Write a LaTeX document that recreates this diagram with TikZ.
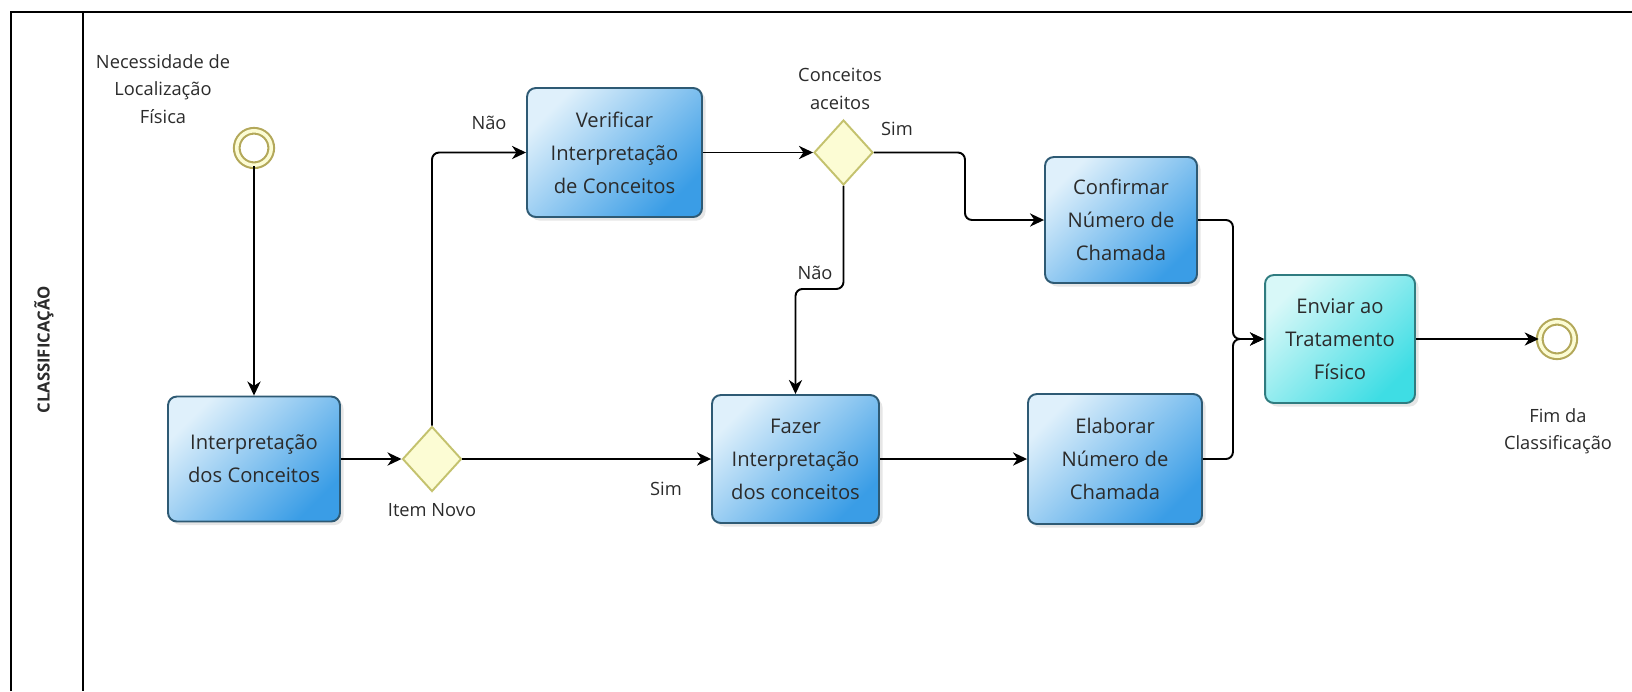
\documentclass[tikz,border=0pt]{standalone}
\usepackage{fontspec}
\setmainfont{Open Sans}
\usepackage{tikz}
\usetikzlibrary{arrows.meta,shapes.geometric,shadows,positioning}
\definecolor{tarefaborda}{HTML}{2E5A74}
\definecolor{tarefaclaro}{HTML}{DFF0FB}
\definecolor{tarefaescuro}{HTML}{3A9DE6}
\definecolor{envioborda}{HTML}{2F7C80}
\definecolor{envioclaro}{HTML}{D8F8F8}
\definecolor{envioescuro}{HTML}{3EDDE4}
\definecolor{portaborda}{HTML}{C4C26E}
\definecolor{portafundo}{HTML}{FCFCD4}
\definecolor{eventoborda}{HTML}{B3A85A}
\definecolor{texto}{HTML}{2B2B2B}
\tikzset{
>={Stealth[length=8pt, width=7.5pt, inset=2.5pt]},
  tarefa/.style={
    rectangle,
    rounded corners=5pt,
    draw=tarefaborda, line width=1.1pt,
    top color=tarefaclaro, bottom color=tarefaescuro, shading angle=45,
    drop shadow={shadow xshift=2pt, shadow yshift=-2pt, opacity=.2},
    text=texto,
    align=center,
    font=\fontsize{11.5}{18.8}\selectfont,
    minimum height=2.5cm},
  envio/.style={
    tarefa,
    draw=envioborda,
    top color=envioclaro, bottom color=envioescuro, shading angle=45},
  porta/.style={
    diamond,
    draw=portaborda, line width=1.1pt,
    fill=portafundo,
    minimum width=1.18cm, minimum height=1.3cm,
    inner sep=0pt},
  evento/.style={
    circle,
    draw=eventoborda, line width=1.2pt,
    double=portafundo, double distance=2pt,
    fill=white,
    minimum size=.69cm, inner sep=0pt},
  rotulo/.style={text=texto, align=center, font=\fontsize{10.4}{15.6}\selectfont},
  line/.style={draw, line width=1.1pt, ->, rounded corners=4pt},
}
\begin{document}
\begin{tikzpicture}[x=.02cm, y=-.02cm]
	\useasboundingbox (0,0) rectangle (1632,691);
	\draw[line width=1.3pt] (11,691) -- (11,12) -- (1632,12);
	\draw[line width=1.3pt] (83,12) -- (83,691);
	\node[rotate=90, text=texto, font=\bfseries\fontsize{9.5}{10}\selectfont] (raia) at (44,350) {CLASSIFICAÇÃO};

	\node[evento] (inicio) at (254,148) {};
	\node[tarefa, minimum width=3.44cm] (interp) at (254,459) {Interpretação\\dos Conceitos};
	\node[porta] (novo) at (432,459) {};
	\node[tarefa, minimum width=3.5cm, minimum height=2.58cm] (verif) at (614.5,152.5) {Verificar\\Interpretação\\de Conceitos};
	\node[porta] (aceitos) at (843.5,152.5) {};
	\node[tarefa, minimum width=3.04cm, minimum height=2.52cm] (confirm) at (1121,220) {Confirmar\\Número de\\Chamada};
	\node[tarefa, minimum width=3.34cm, minimum height=2.56cm] (fazer) at (795.5,459) {Fazer\\Interpretação\\dos conceitos};
	\node[tarefa, minimum width=3.48cm, minimum height=2.6cm] (elab) at (1115,459) {Elaborar\\Número de\\Chamada};
	\node[envio, minimum width=3cm, minimum height=2.56cm] (enviar) at (1340,339) {Enviar ao\\Tratamento\\Físico};
	\node[evento] (fim) at (1557,339) {};

	\node[rotulo] (inicio-txt) at (163,89) {Necessidade de\\Localização\\Física};
	\node[rotulo] (novo-txt) at (432,510) {Item Novo};
	\node[rotulo] (aceitos-txt) at (840,89) {Conceitos\\aceitos};
	\node[rotulo] (fim-txt) at (1558,431) {Fim da\\Classificação};
	\node[rotulo] (nao1) at (489,123) {Não};
	\node[rotulo] (sim1) at (666,489) {Sim};
	\node[rotulo] (sim2) at (897,129) {Sim};
	\node[rotulo] (nao2) at (815,273) {Não};

	\draw[line] (inicio) -- (interp);
	\draw[line] (interp) -- (novo);
	\draw[line] (novo.north) |- (verif.west);
	\draw[line] (novo) -- (fazer);
	\draw[line] (verif) -- (aceitos);
	\draw[line] (aceitos.east) -- ++(91,0) |- (confirm.west);
	\draw[line] (aceitos.south) -- ++(0,103) -| (fazer.north);
	\draw[line] (fazer) -- (elab);
	\draw[line] (confirm.east) -- ++(35,0) |- (enviar.west);
	\draw[line] (elab.east) -- ++(30,0) |- (enviar.west);
	\draw[line] (enviar) -- (fim);
\end{tikzpicture}
\end{document}
